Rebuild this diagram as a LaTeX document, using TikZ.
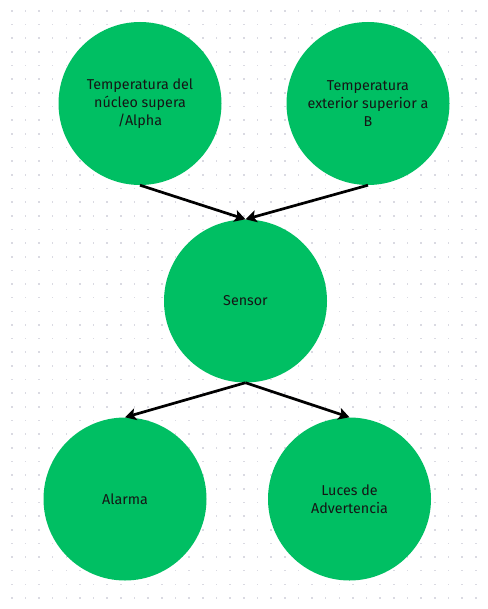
\documentclass[tikz,border=0pt]{standalone}
\usepackage{fontspec}
\setmainfont{Fira Sans}
\usetikzlibrary{arrows.meta}
\definecolor{nodegreen}{HTML}{00BF63}
\definecolor{dotgrey}{HTML}{DADAE2}
\definecolor{txt}{HTML}{151515}
\tikzset{
  circnode/.style={circle, fill=nodegreen, minimum size=163pt, inner sep=0pt,
    align=center, text=txt, font=\fontsize{14.3}{17.8}\selectfont},
  conn/.style={line width=2.7pt, -{Stealth[length=11pt,width=12pt,inset=2.5pt]}},
  griddot/.style={fill=dotgrey}
}
\begin{document}
\begin{tikzpicture}[x=1pt,y=-1pt]
\fill[white] (0,0) rectangle (487,609);
\useasboundingbox (0,0) rectangle (487,609);
\foreach \i in {0,...,34}{
  \foreach \j in {0,...,43}{
    \fill[griddot] ({11.7+13.65*\i-0.8},{11+13.65*\j-0.8}) rectangle ++(1.6,1.6);
  }
}
\node[circnode] (core) at (140,103.5) {Temperatura del\\núcleo supera\\/Alpha};
\node[circnode] (ext) at (368,103.5) {Temperatura\\exterior superior a\\B};
\node[circnode] (sensor) at (245.5,301) {Sensor};
\node[circnode] (alarm) at (125,499) {Alarma};
\node[circnode] (lights) at (349.5,499) {Luces de\\Advertencia};
\draw[conn] (core.south) -- (sensor.north);
\draw[conn] (ext.south) -- (sensor.north);
\draw[conn] (sensor.south) -- (alarm.north);
\draw[conn] (sensor.south) -- (lights.north);
\end{tikzpicture}
\end{document}
